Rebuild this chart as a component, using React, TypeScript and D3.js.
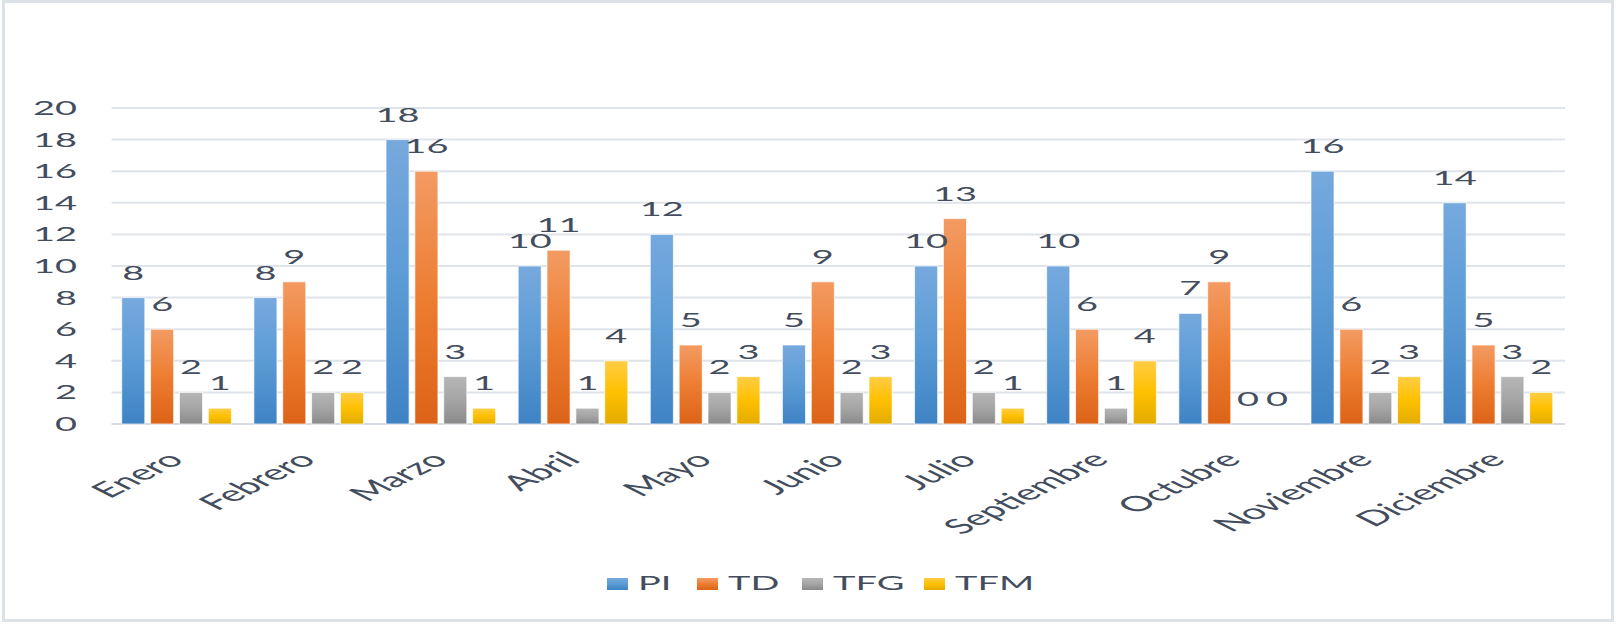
import React, { useRef, useEffect } from 'react';
import * as d3 from 'd3';

const months = ['Enero', 'Febrero', 'Marzo', 'Abril', 'Mayo', 'Junio', 'Julio', 'Septiembre', 'Octubre', 'Noviembre', 'Diciembre'];
const seriesNames = ['PI', 'TD', 'TFG', 'TFM'];
const piValues = [8, 8, 18, 10, 12, 5, 10, 10, 7, 16, 14];
const tdValues = [6, 9, 16, 11, 5, 9, 13, 6, 9, 6, 5];
const tfgValues = [2, 2, 3, 1, 2, 2, 2, 1, 0, 2, 3];
const tfmValues = [1, 2, 1, 4, 3, 3, 1, 4, 0, 3, 2];
const yTicks = [0, 2, 4, 6, 8, 10, 12, 14, 16, 18, 20];

// top / middle / bottom of each bar gradient
const gradients: Record<string, string[]> = {
  PI: ['#76a9de', '#5b9bd5', '#3f83c5'],
  TD: ['#f39b63', '#ed7d31', '#dc6317'],
  TFG: ['#b6b6b6', '#a5a5a5', '#8a8a8a'],
  TFM: ['#ffcd45', '#ffc000', '#e2ac00'],
};

const W = 1616;
const H = 624;
const SX = 1.9; // the picture is stretched sideways
const SX_CAT = 2.0;
const FONT = 'Lato, "Open Sans", sans-serif';
const TEXT = '#434d5d';
// legend item left edges
const legendX = [607, 697, 802, 924];

const App = () => {
  const ref = useRef<SVGSVGElement>(null);

  useEffect(() => {
    const svg = d3.select(ref.current);
    svg.selectAll('*').remove();

    const table = months.map((m, i) => ({
      month: m,
      PI: piValues[i],
      TD: tdValues[i],
      TFG: tfgValues[i],
      TFM: tfmValues[i],
    }));

    const left = 110.5;
    const right = 1564;
    const top = 108;
    const bottom = 424;

    const x0 = d3.scaleBand().domain(months).range([left, right]).paddingInner(0.17).paddingOuter(0.085);
    const x1 = d3.scaleBand().domain(seriesNames).range([0, x0.bandwidth()]).paddingInner(0.2);
    const y = d3.scaleLinear().domain([0, 20]).range([bottom, top]);

    const defs = svg.append('defs');
    seriesNames.forEach((s) => {
      const g = defs.append('linearGradient')
        .attr('id', 'grad-' + s)
        .attr('x1', 0).attr('y1', 0).attr('x2', 0).attr('y2', 1);
      g.append('stop').attr('offset', '0%').attr('stop-color', gradients[s][0]);
      g.append('stop').attr('offset', '50%').attr('stop-color', gradients[s][1]);
      g.append('stop').attr('offset', '100%').attr('stop-color', gradients[s][2]);
    });

    svg.append('rect')
      .attr('x', 3.5).attr('y', 1.5)
      .attr('width', W - 7).attr('height', H - 5)
      .attr('fill', '#ffffff')
      .attr('stroke', '#dde1e8')
      .attr('stroke-width', 3);

    // grid
    svg.append('g')
      .selectAll('line')
      .data(yTicks)
      .join('line')
      .attr('x1', left + 1).attr('x2', right + 1)
      .attr('y1', (d) => y(d)).attr('y2', (d) => y(d))
      .attr('stroke', (d) => (d === 0 ? '#d6dbe3' : '#dfe3ea'))
      .attr('stroke-width', 2);

    // y labels
    svg.append('g')
      .selectAll('text')
      .data(yTicks)
      .join('text')
      .attr('transform', (d) => `translate(77, ${y(d) + 7}) scale(${SX},1)`)
      .attr('text-anchor', 'end')
      .attr('font-family', FONT)
      .attr('font-size', 20)
      .attr('fill', TEXT)
      .text((d) => d);

    // bars
    const groups = svg.append('g')
      .selectAll('g')
      .data(table)
      .join('g')
      .attr('transform', (d) => `translate(${x0(d.month)},0)`);

    groups.selectAll('rect')
      .data((d) => seriesNames.map((s) => ({ key: s, value: (d as any)[s] as number })))
      .join('rect')
      .attr('x', (d) => x1(d.key)!)
      .attr('width', x1.bandwidth())
      .attr('y', (d) => y(d.value))
      .attr('height', (d) => y(0) - y(d.value))
      .attr('fill', (d) => `url(#grad-${d.key})`)
      .attr('stroke', 'rgba(255,255,255,0.7)')
      .attr('stroke-width', 1);

    groups.selectAll('text')
      .data((d) => seriesNames.map((s) => ({ key: s, value: (d as any)[s] as number })))
      .join('text')
      .attr('transform', (d) => `translate(${x1(d.key)! + x1.bandwidth() / 2}, ${y(d.value) - 18}) scale(${SX},1)`)
      .attr('text-anchor', 'middle')
      .attr('font-family', FONT)
      .attr('font-size', 20)
      .attr('fill', TEXT)
      .text((d) => d.value);

    // category labels
    svg.append('g')
      .selectAll('text')
      .data(months)
      .join('text')
      .attr('transform', (d) => `translate(${x0(d)! + x0.bandwidth() / 2 + 9}, 461) scale(${SX_CAT},1) rotate(-45)`)
      .attr('text-anchor', 'end')
      .attr('font-family', FONT)
      .attr('font-size', 21)
      .attr('fill', TEXT)
      .text((d) => d);

    // legend
    const items = svg.append('g')
      .selectAll('g')
      .data(seriesNames)
      .join('g')
      .attr('transform', (_d, i) => `translate(${legendX[i]},0)`);
    items.append('rect')
      .attr('width', 21).attr('height', 12)
      .attr('y', 578)
      .attr('fill', (d) => `url(#grad-${d})`);
    items.append('text')
      .attr('transform', `translate(31, 590) scale(${SX},1)`)
      .attr('font-family', FONT)
      .attr('font-size', 20)
      .attr('fill', TEXT)
      .text((d) => d);
  }, []);

  return (
    <svg
      ref={ref}
      width={W}
      height={H}
      style={{ position: 'absolute', left: 0, top: 0, display: 'block' }}
    />
  );
};

export default App;
